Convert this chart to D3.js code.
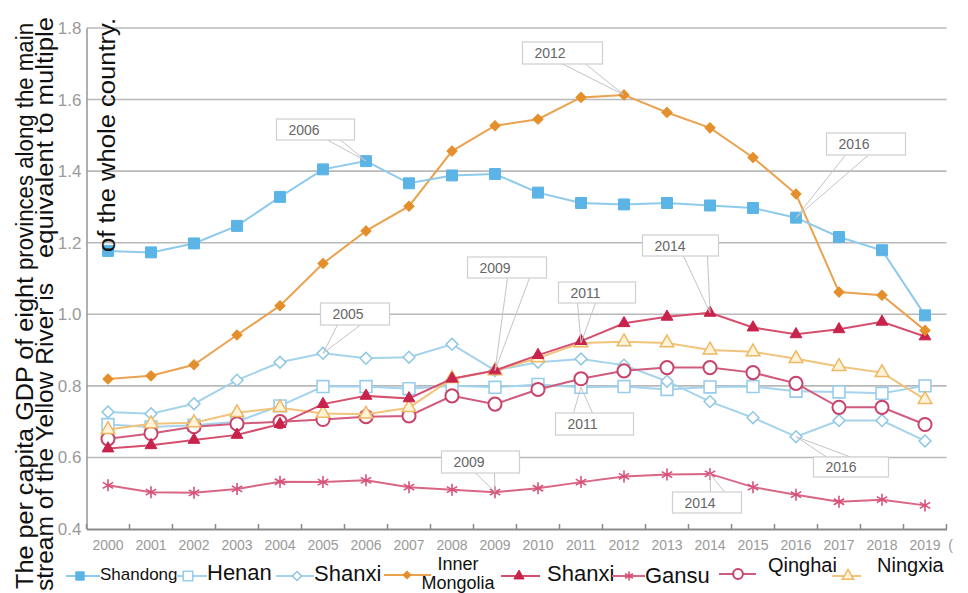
<!DOCTYPE html>
<html lang="en">
  <head>
    <meta charset="UTF-8" />
    <style>
      body { margin: 0; background: #fff; }
      svg { font-family: "Liberation Sans", Arial, sans-serif; }
      .grid line { stroke: #b9b9b9; stroke-width: 1.6; }
      .axis text { fill: #9a9a9a; }
      .callout rect { fill: #fff; stroke: #cfcfcf; stroke-width: 1.2; }
      .callout line { stroke: #c4c4c4; stroke-width: 1; }
      .callout text { fill: #666; font-size: 14px; }
    </style>
    <script src="https://d3js.org/d3.v7.min.js"></script>
    <title>Yellow River provinces</title>
  </head>
  <body>
    <script>
      // ---- data ----
      var years = d3.range(2000, 2020);
      var yTicks = [0.4, 0.6, 0.8, 1.0, 1.2, 1.4, 1.6, 1.8];

      var shandong = [1.177, 1.173, 1.198, 1.247, 1.328, 1.405, 1.428, 1.366, 1.388, 1.392, 1.34, 1.311, 1.307, 1.311, 1.304, 1.297, 1.27, 1.216, 1.179, 0.997];
      var henan = [0.692, 0.685, 0.69, 0.70, 0.744, 0.798, 0.798, 0.792, 0.80, 0.796, 0.804, 0.796, 0.798, 0.79, 0.797, 0.798, 0.785, 0.783, 0.779, 0.80];
      var shanxiDiamond = [0.727, 0.722, 0.75, 0.816, 0.866, 0.891, 0.877, 0.88, 0.916, 0.843, 0.866, 0.875, 0.858, 0.813, 0.756, 0.711, 0.658, 0.703, 0.703, 0.646];
      var innerMongolia = [0.819, 0.828, 0.859, 0.942, 1.024, 1.142, 1.233, 1.302, 1.456, 1.527, 1.545, 1.606, 1.613, 1.564, 1.521, 1.438, 1.336, 1.062, 1.053, 0.955];
      var shanxiTriangle = [0.625, 0.634, 0.649, 0.663, 0.693, 0.749, 0.772, 0.765, 0.82, 0.843, 0.886, 0.925, 0.975, 0.993, 1.004, 0.963, 0.944, 0.958, 0.979, 0.938];
      var gansu = [0.522, 0.503, 0.501, 0.512, 0.532, 0.531, 0.536, 0.517, 0.51, 0.503, 0.514, 0.531, 0.547, 0.552, 0.554, 0.517, 0.496, 0.476, 0.482, 0.466];
      var qinghai = [0.652, 0.667, 0.686, 0.694, 0.70, 0.706, 0.714, 0.716, 0.772, 0.749, 0.79, 0.82, 0.842, 0.851, 0.851, 0.837, 0.807, 0.74, 0.74, 0.692];
      var ningxia = [0.678, 0.694, 0.697, 0.725, 0.739, 0.723, 0.721, 0.739, 0.82, 0.842, 0.878, 0.92, 0.923, 0.92, 0.9, 0.895, 0.876, 0.854, 0.837, 0.762];

      var legendLabels = ["Shandong", "Henan", "Shanxi", "Inner Mongolia", "Shanxi", "Gansu", "Qinghai", "Ningxia"];
      var titleLines = [
        "The per capita GDP of eight",
        "provinces along the main",
        "stream of the Yellow River is",
        "equivalent to multiple",
        "of the whole country."
      ];
      // callouts: label, which series, which year
      var calloutLabels = ["2006", "2012", "2016", "2005", "2009", "2011", "2014", "2011", "2016", "2009", "2014"];
      var calloutSeries = ["shandong", "im", "shandong", "shanxiD", "shanxiT", "ningxia", "shanxiT", "henan", "shanxiD", "gansu", "gansu"];
      var calloutYears = [2006, 2012, 2016, 2005, 2009, 2011, 2014, 2011, 2016, 2009, 2014];

      // ---- layout ----
      var W = 968, H = 593;
      var margin = { top: 28, right: 21.5, bottom: 64, left: 86.5 },
        width = W - margin.left - margin.right,
        height = H - margin.top - margin.bottom;

      var svg = d3.select("body").append("svg").attr("width", W).attr("height", H);
      var g = svg.append("g").attr("transform", "translate(" + margin.left + "," + margin.top + ")");

      var x = d3.scaleBand().domain(years).range([0, width]).paddingInner(0).paddingOuter(0);
      var y = d3.scaleLinear().domain([0.4, 1.8]).range([height, 0]);
      var cx = function (yr) { return x(yr) + x.bandwidth() / 2; };

      // grid
      g.append("g").attr("class", "grid")
        .selectAll("line").data(yTicks.slice(1)).enter().append("line")
        .attr("x1", 0).attr("x2", width)
        .attr("y1", function (d) { return y(d); }).attr("y2", function (d) { return y(d); });

      // y axis
      var ya = g.append("g").attr("class", "axis")
        .call(d3.axisLeft(y).tickValues(yTicks).tickSize(0).tickPadding(5).tickFormat(d3.format(".1f")));
      ya.select(".domain").attr("stroke", "#9c9c9c").attr("stroke-width", 1.6);
      ya.selectAll("text").style("font-size", "17px").style("font-family", "Liberation Sans, Arial, sans-serif");

      // x axis, labels centred in bands, ticks on band edges
      var xa = g.append("g").attr("class", "axis").attr("transform", "translate(0," + height + ")")
        .call(d3.axisBottom(x).tickSize(0).tickPadding(11));
      xa.select(".domain").attr("stroke", "#8a8a8a").attr("stroke-width", 2);
      xa.selectAll("text").style("font-size", "14px").style("font-family", "Liberation Sans, Arial, sans-serif").attr("fill", "#8e8e8e");
      xa.selectAll(".edge").data(years.concat([null])).enter().append("line")
        .attr("class", "edge")
        .attr("x1", function (d) { return d === null ? width : x(d); })
        .attr("x2", function (d) { return d === null ? width : x(d); })
        .attr("y1", 0).attr("y2", -5).attr("stroke", "#8a8a8a").attr("stroke-width", 1.5);
      xa.append("text").attr("x", width + 4).attr("y", 21).attr("fill", "#aaa")
        .style("font-size", "14px").text("(");

      // marker shapes
      function asterisk(r) {
        var a = r * 0.87, b = r * 0.5;
        return "M0," + (-r) + "L0," + r + "M" + (-a) + "," + (-b) + "L" + a + "," + b + "M" + (-a) + "," + b + "L" + a + "," + (-b);
      }
      var series = [
        { key: "henan", values: henan, line: "#a4d3ee", shape: d3.symbolSquare, size: 140, fill: "#fff", stroke: "#97cdec", sw: 1.6, legSize: 90 },
        { key: "shanxiD", values: shanxiDiamond, line: "#a5d4ea", shape: d3.symbolSquare, rot: 45, size: 70, fill: "#fff", stroke: "#8ec8e3", sw: 1.5, legSize: 40 },
        { key: "gansu", values: gansu, line: "#d96685", ast: 6, stroke: "#d8517a", sw: 1.6 },
        { key: "qinghai", values: qinghai, line: "#d05b7c", shape: d3.symbolCircle, size: 135, fill: "#fff", stroke: "#c8426a", sw: 2, legSize: 75 },
        { key: "ningxia", values: ningxia, line: "#f1c37c", shape: d3.symbolTriangle, size: 80, fill: "#fff3da", stroke: "#efb862", sw: 1.5, legSize: 55 },
        { key: "shanxiT", values: shanxiTriangle, line: "#d64e6d", shape: d3.symbolTriangle, size: 60, fill: "#c8234b", stroke: "#c8234b", sw: 1, legSize: 45 },
        { key: "im", values: innerMongolia, line: "#e9a24f", shape: d3.symbolSquare, rot: 45, size: 52, fill: "#e48f2b", stroke: "#e48f2b", sw: 1, legSize: 30 },
        { key: "shandong", values: shandong, line: "#8ecaeb", shape: d3.symbolSquare, size: 120, fill: "#5cb4e6", stroke: "#5cb4e6", sw: 1, legSize: 70 }
      ];
      var byKey = {};
      series.forEach(function (s) { byKey[s.key] = s; });

      function drawMarker(sel, s, px, py, small) {
        var tr = "translate(" + px + "," + py + ")" + (s.rot ? " rotate(" + s.rot + ")" : "");
        if (s.ast) {
          sel.append("path").attr("transform", tr).attr("d", asterisk(small ? 4.5 : s.ast))
            .attr("fill", "none").attr("stroke", s.stroke).attr("stroke-width", s.sw);
        } else {
          sel.append("path").attr("transform", tr)
            .attr("d", d3.symbol().type(s.shape).size(small ? s.legSize : s.size)())
            .attr("fill", s.fill).attr("stroke", s.stroke).attr("stroke-width", s.sw);
        }
      }

      var line = d3.line()
        .x(function (d, i) { return cx(years[i]); })
        .y(function (d) { return y(d); });

      series.forEach(function (s) {
        var sg = g.append("g");
        sg.append("path").attr("d", line(s.values)).attr("fill", "none")
          .attr("stroke", s.line).attr("stroke-width", 2);
        s.values.forEach(function (v, i) { drawMarker(sg, s, cx(years[i]), y(v), false); });
      });

      // callouts (box position in chart pixels, wedge feet on box edge)
      var calloutBoxes = [
        [190, 91, 78, 21, 241, 254], [436, 14, 80, 22, 476, 499], [740, 105, 79, 22, 759, 782],
        [234, 275, 69, 22, 251, 274], [381, 229, 79, 21, 421, 443], [472, 254, 77, 21, 491, 509],
        [556, 207, 76, 21, 597, 621], [469, 385, 78, 22, 487, 506], [727, 429, 75, 20, 740, 764],
        [355, 423, 78, 22, 389, 408], [586, 464, 69, 21, 624, 638]
      ];
      var cg = g.append("g").attr("class", "callout");
      calloutLabels.forEach(function (lab, i) {
        var b = calloutBoxes[i];
        var s = byKey[calloutSeries[i]];
        var tx = cx(calloutYears[i]);
        var ty = y(s.values[years.indexOf(calloutYears[i])]);
        var edge = ty > b[1] + b[3] ? b[1] + b[3] : b[1];
        cg.append("line").attr("x1", b[4]).attr("y1", edge).attr("x2", tx).attr("y2", ty);
        cg.append("line").attr("x1", b[5]).attr("y1", edge).attr("x2", tx).attr("y2", ty);
      });
      calloutLabels.forEach(function (lab, i) {
        var b = calloutBoxes[i];
        cg.append("rect").attr("x", b[0]).attr("y", b[1]).attr("width", b[2]).attr("height", b[3]);
        cg.append("text").attr("x", b[0] + 12).attr("y", b[1] + b[3] / 2 + 5).text(lab);
      });

      // y title, rotated columns
      var titlePos = [[33, 589, 312], [33, 270, 247], [53, 591, 308], [53, 258, 241], [115, 252, 234]];
      titleLines.forEach(function (t, i) {
        var p = titlePos[i];
        svg.append("text")
          .attr("transform", "translate(" + p[0] + "," + p[1] + ") rotate(-90)")
          .attr("textLength", p[2]).attr("lengthAdjust", "spacingAndGlyphs")
          .style("font-size", "23px").attr("fill", "#111").text(t);
      });

      // legend
      var legendOrder = ["shandong", "henan", "shanxiD", "im", "shanxiT", "gansu", "qinghai", "ningxia"];
      var legendPos = [
        { l: [66, 100], m: 80, ly: 576, tx: 100, ty: 580, fs: 17 },
        { l: [176, 207], m: 188, ly: 576, tx: 207, ty: 580, fs: 22 },
        { l: [276, 314], m: 297, ly: 576, tx: 314, ty: 581, fs: 22 },
        { l: [384, 431], m: 407, ly: 575, tx: 458, ty: 570, fs: 18 },
        { l: [501, 540], m: 519, ly: 576, tx: 547, ty: 581, fs: 22 },
        { l: [612, 645], m: 629, ly: 576, tx: 645, ty: 583, fs: 22 },
        { l: [719, 756], m: 738, ly: 574, tx: 768, ty: 572, fs: 20 },
        { l: [832, 861], m: 848, ly: 576, tx: 877, ty: 572, fs: 20 }
      ];
      var lg = svg.append("g");
      legendOrder.forEach(function (k, i) {
        var s = byKey[k], p = legendPos[i];
        lg.append("line").attr("x1", p.l[0]).attr("x2", p.l[1]).attr("y1", p.ly).attr("y2", p.ly)
          .attr("stroke", s.line).attr("stroke-width", 2);
        drawMarker(lg, s, p.m, p.ly, true);
        var label = legendLabels[i];
        if (label.indexOf(" ") > 0) {
          var parts = label.split(" ");
          lg.append("text").attr("x", p.tx).attr("y", p.ty).attr("text-anchor", "middle")
            .style("font-size", p.fs + "px").attr("fill", "#111").text(parts[0]);
          lg.append("text").attr("x", p.tx).attr("y", p.ty + 19).attr("text-anchor", "middle")
            .style("font-size", p.fs + "px").attr("fill", "#111").text(parts[1]);
        } else {
          lg.append("text").attr("x", p.tx).attr("y", p.ty)
            .style("font-size", p.fs + "px").attr("fill", "#111").text(label);
        }
      });
    </script>
  </body>
</html>
